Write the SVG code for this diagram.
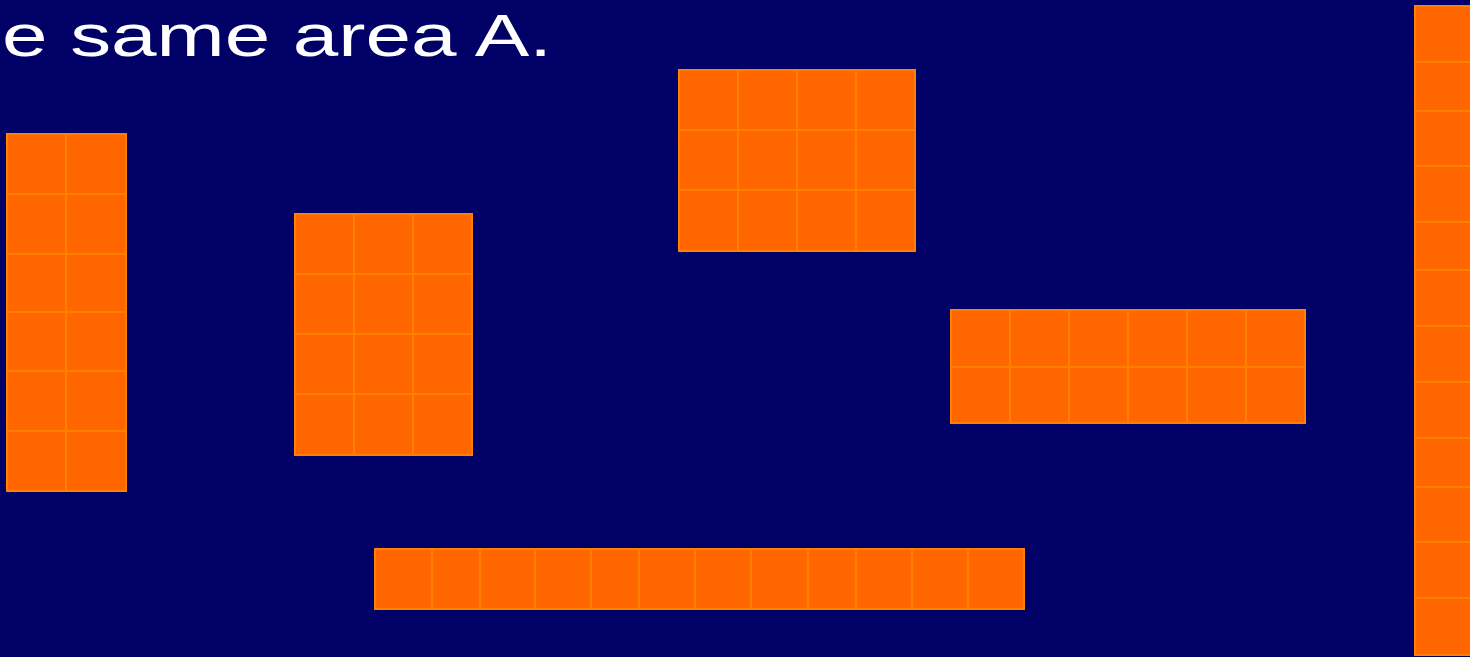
<svg xmlns="http://www.w3.org/2000/svg" width="1470" height="657" viewBox="0 0 1470 657">
<style>
.bg{fill:#000066}
.r{fill:#FF6600;stroke:#FF8000;stroke-width:2}
.g{stroke:#FF8000;stroke-width:2;fill:none}
.t{fill:#FFFFFF;font-family:"Comic Sans MS","Liberation Sans",sans-serif;font-size:60px}
</style>
<rect class="bg" x="0" y="0" width="1470" height="657"/>
<text class="t" x="2" y="56" textLength="550" lengthAdjust="spacingAndGlyphs">e same area A.</text>
<g id="rect-2x6">
<rect class="r" x="7" y="134" width="119" height="357"/>
<path class="g" d="M66 134V491M7 194H126M7 254H126M7 312H126M7 371H126M7 431H126"/>
</g>
<g id="rect-3x4">
<rect class="r" x="295" y="214" width="177" height="241"/>
<path class="g" d="M354 214V455M413 214V455M295 274H472M295 334H472M295 394H472"/>
</g>
<g id="rect-4x3">
<rect class="r" x="679" y="70" width="236" height="181"/>
<path class="g" d="M738 70V251M797 70V251M856 70V251M679 130H915M679 190H915"/>
</g>
<g id="rect-6x2">
<rect class="r" x="951" y="310" width="354" height="113"/>
<path class="g" d="M1010 310V423M1069 310V423M1128 310V423M1187 310V423M1246 310V423M951 367H1305"/>
</g>
<g id="rect-12x1">
<rect class="r" x="375" y="549" width="649" height="60"/>
<path class="g" d="M432 549V609M480 549V609M535 549V609M591 549V609M639 549V609M695 549V609M751 549V609M808 549V609M856 549V609M912 549V609M968 549V609"/>
</g>
<g id="rect-1x12">
<rect class="r" x="1415" y="6" width="70" height="649"/>
<path class="g" d="M1415 62H1470M1415 111H1470M1415 166H1470M1415 222H1470M1415 270H1470M1415 326H1470M1415 382H1470M1415 438H1470M1415 487H1470M1415 542H1470M1415 598H1470"/>
</g>
</svg>
